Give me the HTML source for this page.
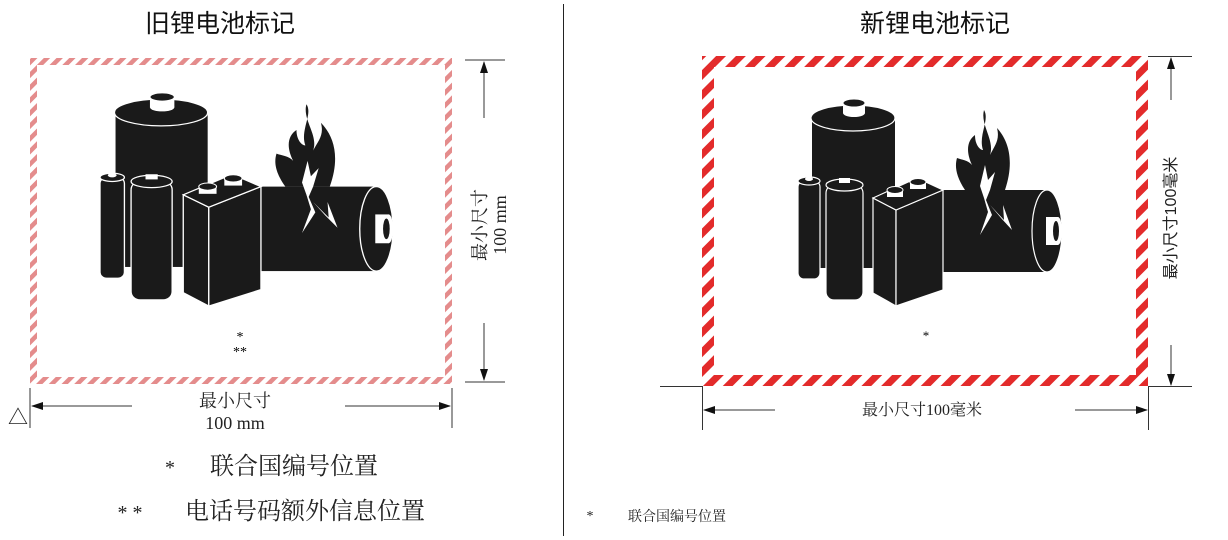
<!DOCTYPE html>
<html><head><meta charset="utf-8"><style>
html,body{margin:0;padding:0;background:#fff;}
body{width:1228px;height:540px;position:relative;overflow:hidden;font-family:"Liberation Serif","Noto Serif CJK SC",serif;}
</style></head><body>
<svg width="1228" height="540" viewBox="0 0 1228 540" xmlns="http://www.w3.org/2000/svg" style="position:absolute;left:0;top:0">
<defs>
<pattern id="sr" patternUnits="userSpaceOnUse" width="14" height="14" patternTransform="rotate(45)">
<rect width="14" height="14" fill="#fff"/><rect width="7" height="14" fill="#e32b2b"/></pattern>
<pattern id="sl" patternUnits="userSpaceOnUse" width="9" height="9" patternTransform="rotate(45)">
<rect width="9" height="9" fill="#fff"/><rect width="4.5" height="9" fill="#e48c8c"/></pattern>
<marker id="ah" markerWidth="12" markerHeight="8" refX="11" refY="4" orient="auto" markerUnits="userSpaceOnUse">
<path d="M0,0 L12,4 L0,8 Z" fill="#111"/></marker>
<g id="bat">
<rect x="942" y="190" width="108" height="82" fill="#1a1a1a"/>
<ellipse cx="1047" cy="231" rx="15" ry="41" fill="#1a1a1a" stroke="#fff" stroke-width="1.2"/>
<rect x="1046" y="217" width="12" height="28" fill="#fff"/>
<ellipse cx="1058" cy="231" rx="4" ry="14" fill="#fff"/>
<ellipse cx="1056" cy="231" rx="3" ry="10" fill="#1a1a1a"/>
<path d="M984,110 C980,125 995,140 990,155 C995,145 1000,140 997,128 C1008,140 1015,160 1005,190 L965,190 C955,175 955,165 957,158 C962,160 968,160 972,165 C965,150 968,140 975,135 C975,145 980,150 983,150 C978,135 990,120 984,110 Z" fill="#1a1a1a"/>
<path d="M985,165 L988,180 L995,172 L990,190 L986,200 L992,215 L980,235 L988,212 L984,198 L980,186 Z" fill="#fff"/>
<path d="M990,205 L1004,220 L1003,205 L1012,230 L1001,218 Z" fill="#fff"/>
<rect x="812" y="118" width="83" height="150" fill="#1a1a1a"/>
<ellipse cx="853" cy="118" rx="42" ry="13" fill="#1a1a1a" stroke="#fff" stroke-width="1.2"/>
<rect x="843" y="103" width="22" height="10" fill="#fff"/>
<ellipse cx="854" cy="113" rx="11" ry="4" fill="#fff"/>
<ellipse cx="854" cy="103" rx="11" ry="4" fill="#1a1a1a" stroke="#fff"/>
<rect x="798" y="181" width="22" height="98" rx="6" fill="#1a1a1a" stroke="#fff" stroke-width="1.2"/>
<ellipse cx="809" cy="181" rx="11" ry="4" fill="#1a1a1a" stroke="#fff" stroke-width="1.2"/>
<ellipse cx="809" cy="179" rx="4" ry="2" fill="#fff"/>
<rect x="826" y="185" width="37" height="115" rx="8" fill="#1a1a1a" stroke="#fff" stroke-width="1.2"/>
<ellipse cx="844.5" cy="185" rx="18.5" ry="6" fill="#1a1a1a" stroke="#fff" stroke-width="1.2"/>
<rect x="839" y="178" width="11" height="5" fill="#fff"/>
<path d="M873,198 L873,293 L896,306 L896,210 Z" fill="#1a1a1a" stroke="#fff" stroke-width="1.2"/>
<path d="M896,210 L896,306 L943,290 L943,190 Z" fill="#1a1a1a" stroke="#fff" stroke-width="1.2"/>
<path d="M873,198 L917,178 L943,190 L896,210 Z" fill="#1a1a1a" stroke="#fff" stroke-width="1.2"/>
<rect x="887" y="190" width="16" height="7" fill="#fff"/><ellipse cx="895" cy="190" rx="8" ry="3.5" fill="#1a1a1a" stroke="#fff"/>
<rect x="910" y="182" width="16" height="7" fill="#fff"/><ellipse cx="918" cy="182" rx="8" ry="3.5" fill="#1a1a1a" stroke="#fff"/>
</g>
</defs>

<text x="220" y="32" font-family="Liberation Sans,Noto Sans CJK SC,sans-serif" font-size="25" text-anchor="middle" fill="#111">旧锂电池标记</text>
<text x="935" y="32" font-family="Liberation Sans,Noto Sans CJK SC,sans-serif" font-size="25" text-anchor="middle" fill="#111">新锂电池标记</text>
<line x1="563.5" y1="4" x2="563.5" y2="536" stroke="#222" stroke-width="1"/>

<rect x="30" y="58" width="422" height="326" fill="url(#sl)"/>
<rect x="37" y="65" width="408" height="312" fill="#fff"/>
<use href="#bat" transform="translate(100,97) scale(1.11,1.03) translate(-798,-103)"/>
<text x="240" y="341" font-size="14" text-anchor="middle">*</text>
<text x="240" y="356" font-size="14" text-anchor="middle">**</text>
<line x1="465" y1="60" x2="505" y2="60" stroke="#333"/>
<line x1="465" y1="382" x2="505" y2="382" stroke="#333"/>
<line x1="484" y1="118" x2="484" y2="62" stroke="#333" marker-end="url(#ah)"/>
<line x1="484" y1="323" x2="484" y2="380" stroke="#333" marker-end="url(#ah)"/>
<text transform="translate(486,225) rotate(-90)" font-size="18" text-anchor="middle" fill="#222">最小尺寸</text>
<text transform="translate(506,225) rotate(-90)" font-size="18" text-anchor="middle" fill="#222">100 mm</text>
<line x1="30" y1="388" x2="30" y2="428" stroke="#333"/>
<line x1="452" y1="388" x2="452" y2="428" stroke="#333"/>
<line x1="132" y1="406" x2="32" y2="406" stroke="#333" marker-end="url(#ah)"/>
<line x1="345" y1="406" x2="450" y2="406" stroke="#333" marker-end="url(#ah)"/>
<text x="235" y="407" font-size="18" text-anchor="middle" fill="#222">最小尺寸</text>
<text x="235" y="429" font-size="18" text-anchor="middle" fill="#222">100 mm</text>
<text x="18" y="424" font-size="20" text-anchor="middle" fill="#222">△</text>
<text x="170" y="474" font-size="20" text-anchor="middle" fill="#222">*</text>
<text x="210" y="474" font-size="24" fill="#222">联合国编号位置</text>
<text x="130" y="519" font-size="20" text-anchor="middle" fill="#222">* *</text>
<text x="185" y="519" font-size="24" fill="#222">电话号码额外信息位置</text>

<rect x="702" y="56" width="446" height="330" fill="url(#sr)"/>
<rect x="714" y="67" width="422" height="308" fill="#fff"/>
<use href="#bat"/>
<text x="926" y="340" font-size="13" text-anchor="middle">*</text>
<line x1="660" y1="386.5" x2="702" y2="386.5" stroke="#333"/>
<line x1="702.5" y1="386" x2="702.5" y2="430" stroke="#333"/>
<line x1="1148" y1="386.5" x2="1192" y2="386.5" stroke="#333"/>
<line x1="1148.5" y1="386" x2="1148.5" y2="430" stroke="#333"/>
<line x1="1148" y1="56.5" x2="1192" y2="56.5" stroke="#333"/>
<line x1="1171" y1="100" x2="1171" y2="58" stroke="#333" marker-end="url(#ah)"/>
<line x1="1171" y1="345" x2="1171" y2="385" stroke="#333" marker-end="url(#ah)"/>
<line x1="775" y1="410" x2="704" y2="410" stroke="#333" marker-end="url(#ah)"/>
<line x1="1075" y1="410" x2="1147" y2="410" stroke="#333" marker-end="url(#ah)"/>
<text x="922" y="415" font-size="16" text-anchor="middle" fill="#222">最小尺寸100毫米</text>
<text transform="translate(1176,218) rotate(-90)" font-family="Liberation Sans,Noto Sans CJK SC,sans-serif" font-size="16" text-anchor="middle" fill="#222">最小尺寸100毫米</text>
<text x="590" y="520" font-size="14" text-anchor="middle" fill="#222">*</text>
<text x="628" y="521" font-size="14" fill="#222">联合国编号位置</text>
</svg>
</body></html>
